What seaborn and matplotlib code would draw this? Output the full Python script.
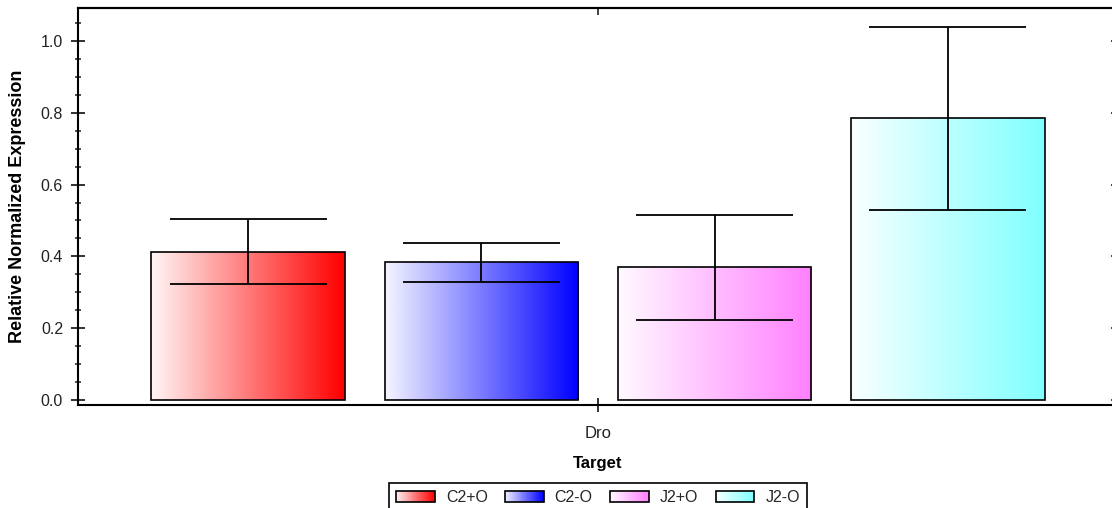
import numpy as np
import pandas as pd
import matplotlib.pyplot as plt
import seaborn as sns
from matplotlib.colors import LinearSegmentedColormap, to_rgb
from matplotlib.legend_handler import HandlerBase
from matplotlib.patches import Rectangle
from matplotlib.ticker import MultipleLocator

# Data
target = ['Dro']
samples = ['C2+O', 'C2-O', 'J2+O', 'J2-O']
expression = [0.412, 0.384, 0.370, 0.785]
err_low = [0.323, 0.329, 0.223, 0.529]
err_high = [0.505, 0.437, 0.515, 1.039]
colors = ['#FF0000', '#0000FF', '#FF80FF', '#80FFFF']

df = pd.DataFrame({'Target': target * len(samples), 'Sample': samples, 'Expression': expression})


# legend key drawn as a white -> colour gradient
class GradientHandler(HandlerBase):
    def create_artists(self, legend, orig_handle, xdescent, ydescent, width, height, fontsize, trans):
        col = np.array(to_rgb(orig_handle.get_facecolor()))
        n = 40
        arts = []
        for i in range(n):
            f = 0.05 + 0.95 * (i + 0.5) / n
            c = (1 - f) * np.ones(3) + f * col
            arts.append(Rectangle((-xdescent + i * width / n, -ydescent), width / n, height,
                                  facecolor=c, edgecolor=c, lw=0.3, transform=trans))
        arts.append(Rectangle((-xdescent, -ydescent), width, height, facecolor='none',
                              edgecolor='black', lw=1.2, transform=trans))
        return arts


sns.set_theme(style='ticks')
plt.rcParams['font.family'] = ['Liberation Sans', 'DejaVu Sans']

fig = plt.figure(figsize=(11.12, 5.08), dpi=100)
ax = fig.add_axes([78 / 1112, 1 - 405 / 508, 1040 / 1112, 397 / 508])

sns.barplot(data=df, x='Target', y='Expression', hue='Sample', palette=colors,
            width=0.8, gap=0.17, edgecolor='black', linewidth=1.2, legend=False, ax=ax)

grad = np.linspace(0.04, 1, 256).reshape(1, -1)
for bar, col, lo, hi in zip(ax.patches, colors, err_low, err_high):
    x0, w, h = bar.get_x(), bar.get_width(), bar.get_height()
    cmap = LinearSegmentedColormap.from_list('g', ['white', col])
    im = ax.imshow(grad, cmap=cmap, aspect='auto', extent=(x0, x0 + w, 0, h),
                   vmin=0, vmax=1, zorder=1)
    im.set_clip_path(bar)
    bar.set_facecolor('none')
    bar.set_zorder(2)
    cx = x0 + w / 2
    ax.vlines(cx, lo, hi, color='black', lw=1.3, zorder=5)
    ax.hlines([lo, hi], cx - 0.405 * w, cx + 0.405 * w, color='black', lw=1.3, zorder=5)

ax.set_xlim(-0.446, 0.446)
ax.set_ylim(-0.014, 1.092)
yt = np.arange(0, 1.01, 0.2)
ax.set_yticks(yt)
ax.set_yticklabels([f'{v:.1f}' for v in yt])
ax.yaxis.set_minor_locator(MultipleLocator(0.05))

ax.tick_params(axis='y', which='major', direction='inout', length=9.5, width=1.3,
               left=True, right=False, labelsize=11.5, pad=6, colors='#222222')
ax.tick_params(axis='y', which='minor', direction='inout', length=5, width=1.1,
               left=True, right=False, colors='#222222')
ax.tick_params(axis='x', which='major', direction='inout', length=10, width=1.3,
               bottom=True, top=False, labelsize=12, pad=10, colors='#222222')

# inward-only ticks on the top and right edges
top = ax.secondary_xaxis('top')
top.set_xticks([0])
top.set_xticklabels([])
top.tick_params(direction='in', length=5, width=1.3, colors='#333333')
right = ax.secondary_yaxis('right')
right.set_yticks(yt)
right.set_yticklabels([])
right.tick_params(direction='in', length=5, width=1.3, colors='#333333')
for a in (top, right):
    for s in a.spines.values():
        s.set_color('black')
        s.set_linewidth(1.5)

for s in ax.spines.values():
    s.set_color('black')
    s.set_linewidth(1.5)

ax.set_xlabel('Target', fontsize=12, fontweight='bold', color='black', labelpad=11)
ax.set_ylabel('Relative Normalized Expression', fontsize=13, fontweight='bold', color='black')
ax.yaxis.set_label_coords(-0.05, 0.5)

handles = [Rectangle((0, 0), 1, 1, facecolor=c) for c in colors]
leg = fig.legend(handles, samples, handler_map={Rectangle: GradientHandler()},
                 loc='upper center', bbox_to_anchor=(598 / 1112, 1 - 483 / 508), ncol=4,
                 frameon=True, fancybox=False, edgecolor='black', fontsize=11.5,
                 handlelength=2.4, handleheight=0.62, handletextpad=0.7,
                 columnspacing=1.1, borderpad=0.45, borderaxespad=0, framealpha=1)
leg.get_frame().set_linewidth(1.2)

fig.savefig('out.png', dpi=100)
